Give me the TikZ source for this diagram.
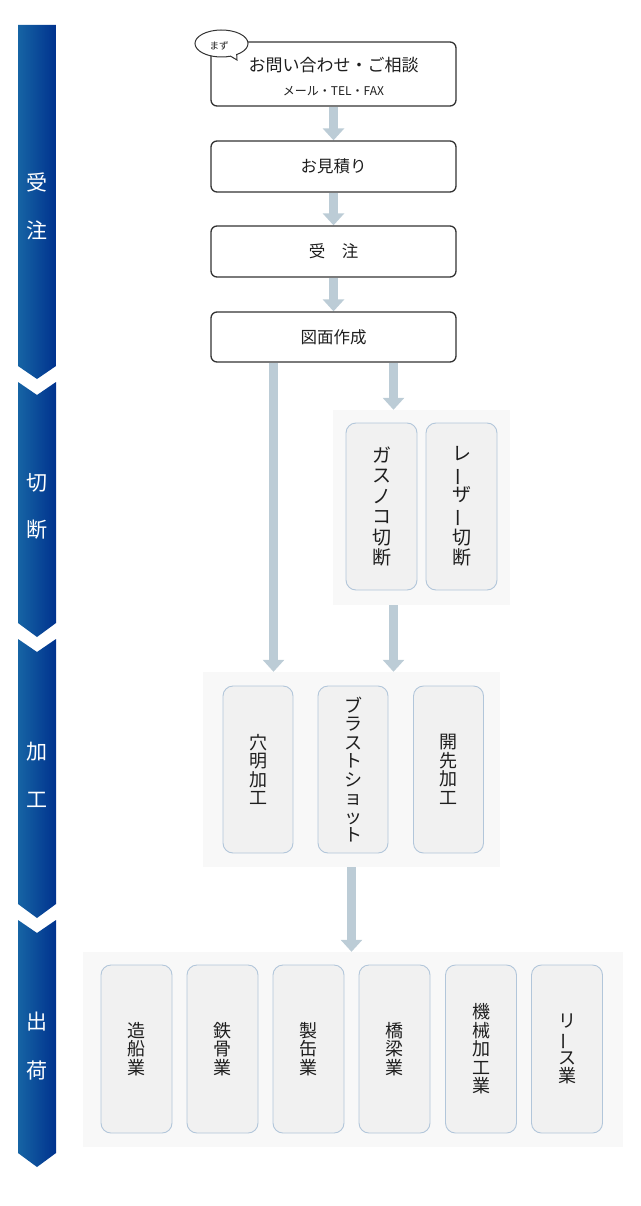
\documentclass[tikz,border=0pt]{standalone}
\usepackage{fontspec}
\setmainfont{Noto Sans CJK JP}
\usetikzlibrary{arrows.meta,calc}
\pgfdeclarelayer{bg}
\pgfsetlayers{bg,main}
\definecolor{barL}{RGB}{22,100,164}
\definecolor{barR}{RGB}{0,50,142}
\definecolor{arrc}{RGB}{188,204,214}
\definecolor{panelc}{RGB}{248,248,248}
\definecolor{boxf}{RGB}{241,241,241}
\definecolor{boxd}{RGB}{178,198,218}
\definecolor{ink}{RGB}{30,30,30}
\definecolor{topd}{RGB}{51,51,51}
\newcommand\chonv{\rotatebox[origin=c]{90}{ー}}
\begin{document}
\begin{tikzpicture}[x=1pt,y=-1pt,
  topbox/.style={draw=topd,line width=1.3pt,rounded corners=6pt,fill=white,minimum width=245pt,inner sep=0pt,text=ink},
  panel/.style={fill=panelc,inner sep=0pt,minimum height=195pt},
  vbox/.style={draw=boxd,line width=0.9pt,fill=boxf,rounded corners=10pt,inner sep=0pt,minimum width=71pt,minimum height=167pt,align=center,text=ink,font=\fontsize{18}{18.5}\selectfont},
  flow/.style={draw=arrc,line width=8.5pt,-{Triangle[width=21pt,length=12pt]}},
  barseg/.style={left color=barL,right color=barR},
  barlab/.style={text=white,font=\fontsize{21}{21}\selectfont,inner sep=0pt}]
\useasboundingbox (0,0) rectangle (640,1206);
% left bar
\shade[barseg] (18,25) -- (56,25) -- (56,366) -- (37,379) -- (18,366) -- cycle;
\shade[barseg] (18,382) -- (37,395) -- (56,382) -- (56,623) -- (37,637) -- (18,623) -- cycle;
\shade[barseg] (18,639) -- (37,652) -- (56,639) -- (56,904) -- (37,918) -- (18,904) -- cycle;
\shade[barseg] (18,920) -- (37,933) -- (56,920) -- (56,1153) -- (37,1167) -- (18,1153) -- cycle;
\node[barlab] (b1a) at (37,182) {受};
\node[barlab] (b1b) at (37,230) {注};
\node[barlab] (b2a) at (37,483) {切};
\node[barlab] (b2b) at (37,530) {断};
\node[barlab] (b3a) at (37,752) {加};
\node[barlab] (b3b) at (37,800) {工};
\node[barlab] (b4a) at (37,1022) {出};
\node[barlab] (b4b) at (37,1070) {荷};
% top boxes
\node[topbox,minimum height=64pt] (inq) at (333.5,74) {};
\node[text=ink,font=\fontsize{17}{17}\selectfont,inner sep=0pt] (inqt) at (333.5,65) {お問い合わせ・ご相談};
\node[text=ink,font=\fontsize{12}{12}\selectfont,inner sep=0pt] (inqs) at (333.5,91) {メール・TEL・FAX};
\draw[topd,line width=1pt,fill=white] ($(221.5,43.5)+(-55:26.5pt and 13.5pt)$) arc[start angle=-55,end angle=290,x radius=26.5pt,y radius=13.5pt] -- (237,60) -- cycle;
\node[text=ink,font=\fontsize{9.5}{9.5}\selectfont,inner sep=0pt] (maz) at (219,46) {まず};
\node[topbox,minimum height=51pt,font=\fontsize{16.5}{16.5}\selectfont] (est) at (333.5,166.5) {お見積り};
\node[topbox,minimum height=51pt,font=\fontsize{16.5}{16.5}\selectfont] (ord) at (333.5,251.5) {受　注};
\node[topbox,minimum height=50pt,font=\fontsize{16.5}{16.5}\selectfont] (zu) at (333.5,337) {図面作成};
% panels
\node[panel,minimum width=177pt] (cut) at (421.5,507.5) {};
\node[panel,minimum width=297pt] (kako) at (351.5,769.5) {};
\node[panel,minimum width=540pt] (ship) at (353,1049.5) {};
% cutting
\node[vbox,font=\fontsize{19}{20.5}\selectfont] (gas) at (381.5,506.5) {ガ\\ス\\ノ\\コ\\切\\断};
\node[vbox,font=\fontsize{19}{20.5}\selectfont] (laser) at (461.5,506.5) {レ\\\chonv\\ザ\\\chonv\\切\\断};
% processing
\node[vbox,minimum width=70pt] (ana) at (258,769.5) {穴\\明\\加\\工};
\node[vbox,minimum width=70pt] (blast) at (353,769.5) {ブ\\ラ\\ス\\ト\\シ\\ョ\\ッ\\ト};
\node[vbox,minimum width=70pt] (kaisaki) at (448.5,769.5) {開\\先\\加\\工};
% shipping
\node[vbox,minimum height=168pt] (s1) at (136.5,1049) {造\\船\\業};
\node[vbox,minimum height=168pt] (s2) at (222.5,1049) {鉄\\骨\\業};
\node[vbox,minimum height=168pt] (s3) at (308.5,1049) {製\\缶\\業};
\node[vbox,minimum height=168pt] (s4) at (394.5,1049) {橋\\梁\\業};
\node[vbox,minimum height=168pt] (s5) at (481,1049) {機\\械\\加\\工\\業};
\node[vbox,minimum height=168pt] (s6) at (567,1049) {リ\\\chonv\\ス\\業};
% arrows
\begin{pgfonlayer}{bg}
\draw[flow] (inq.south) -- (est.north);
\draw[flow] (est.south) -- (ord.north);
\draw[flow] (ord.south) -- (zu.north);
\draw[flow] ([xshift=-60pt]zu.south) -- ([xshift=-60pt]zu.south |- kako.north);
\draw[flow] ([xshift=60pt]zu.south) -- ([xshift=60pt]zu.south |- cut.north);
\draw[flow] ([xshift=60pt]zu.south |- cut.south) -- ([xshift=60pt]zu.south |- kako.north);
\draw[flow] (kako.south) -- (kako.south |- ship.north);
\end{pgfonlayer}
\end{tikzpicture}
\end{document}
